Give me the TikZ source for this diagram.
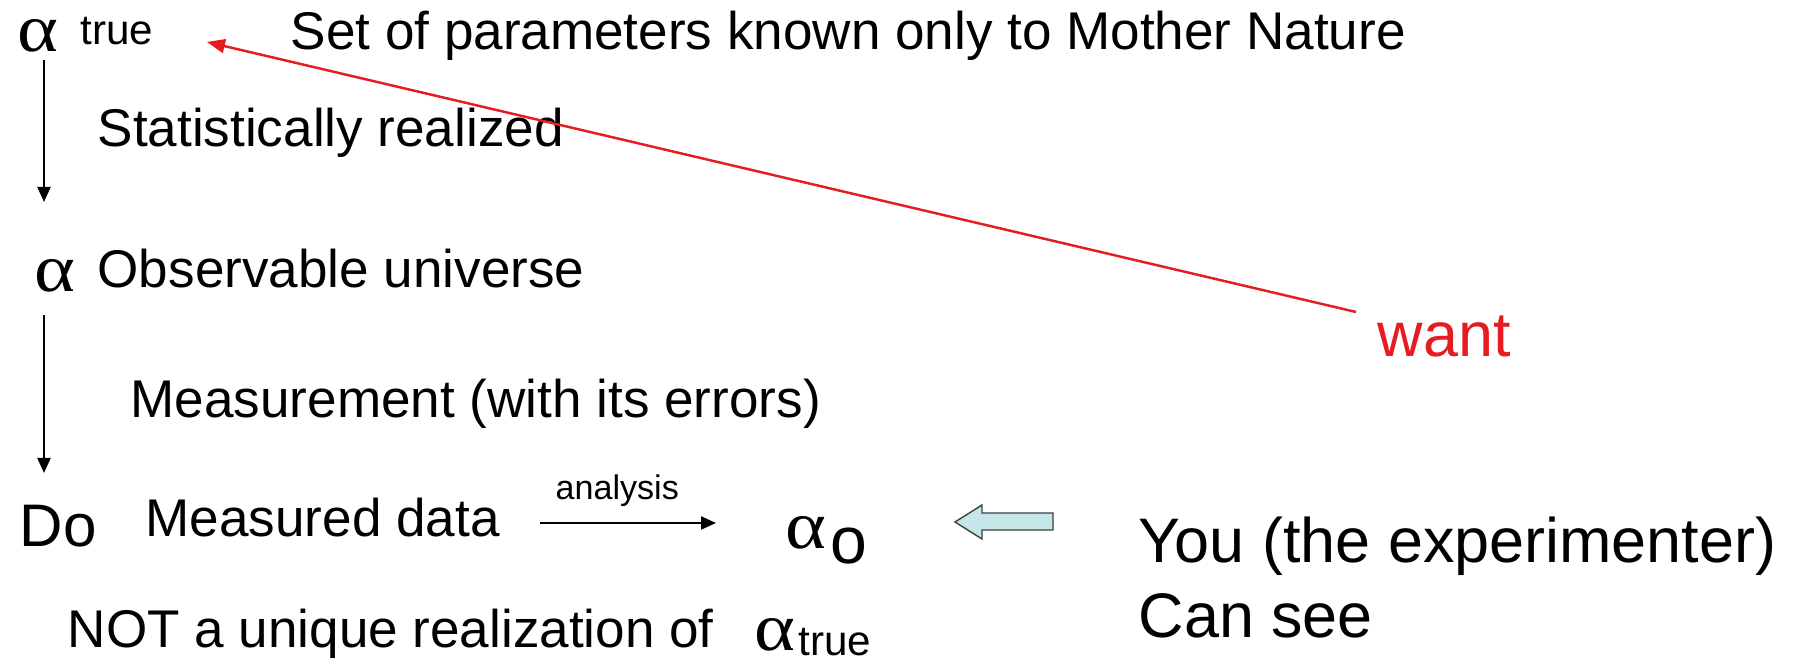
\documentclass[tikz,border=0pt]{standalone}
\usepackage{fontspec}
\setmainfont{Liberation Sans}
\newfontfamily\greekfont[FakeStretch=1.15]{Liberation Serif}
\usetikzlibrary{positioning,arrows.meta}
\definecolor{wantred}{RGB}{230,28,32}
\definecolor{seeblue}{RGB}{197,230,232}

\begin{document}
\begin{tikzpicture}[x=1cm,y=1cm,>={Triangle[length=1.5mm,width=1.3mm]},
  txt/.style={anchor=base west,inner sep=0pt,font=\fontsize{15.1}{18}\selectfont},
  big/.style={txt,font=\fontsize{17.9}{21}\selectfont},
  small/.style={txt,font=\fontsize{12}{14}\selectfont},
  alpha/.style={txt,font=\greekfont\fontsize{19.3}{22}\selectfont},
  flow/.style={->,line width=0.6pt}]
  % page of 18.04 x 6.62 cm, origin at the top left corner
  \useasboundingbox (0,0) rectangle (18.04,-6.62);
  \node[alpha] (atrue) at (0.17,-0.52) {α};
  \node[small] (true1) at (0.80,-0.45) {true};
  \node[txt] (nature) at (2.90,-0.50) {Set of parameters known only to Mother Nature};
  \node[txt] (stat) at (0.97,-1.47) {Statistically realized};
  \node[alpha] (aobs) at (0.34,-2.92) {α};
  \node[txt] (obs) at (0.97,-2.88) {Observable universe};
  \node[txt] (meas) at (1.30,-4.18) {Measurement (with its errors)};
  \node[txt,font=\fontsize{17.1}{20}\selectfont] (do) at (0.19,-5.47) {Do};
  \node[txt] (data) at (1.45,-5.37) {Measured data};
  \node[txt,font=\fontsize{9.7}{12}\selectfont] (ana) at (5.55,-5.00) {analysis};
  \node[alpha] (ao) at (7.85,-5.49) {α};
  \node[big,font=\fontsize{18.8}{22}\selectfont] (osub) at (8.30,-5.64) {o};
  \node[big] (you) at (11.38,-5.63) {You (the experimenter)};
  \node[big] (cansee) at (11.38,-6.38) {Can see};
  \node[big,text=wantred] (want) at (13.77,-3.57) {want};
  \node[txt] (notu) at (0.67,-6.48) {NOT a unique realization of};
  \node[alpha] (abot) at (7.54,-6.51) {α};
  \node[small] (true2) at (7.98,-6.56) {true};

  % connectors
  \coordinate (s1) at (0.44,-0.60);
  \coordinate (e1) at (0.44,-2.02);
  \coordinate (s2) at (0.44,-3.15);
  \coordinate (e2) at (0.44,-4.73);
  \coordinate (s3) at (5.40,-5.23);
  \coordinate (e3) at (7.16,-5.23);
  \coordinate (wantend) at (13.56,-3.12);
  \coordinate (wanttip) at (2.07,-0.42);
  \draw[flow] (s1) -- (e1);
  \draw[flow] (s2) -- (e2);
  \draw[flow] (s3) -- (e3);
  \draw[-{Triangle[length=1.8mm,width=1.4mm]},wantred,line width=0.7pt] (wantend) -- (wanttip);

  % hollow block arrow pointing at alpha_o
  \coordinate (bt) at (9.55,-5.22);
  \filldraw[fill=seeblue,draw=black!75,line width=0.4pt] (bt) -- ++(0.27,0.17) -- ++(0,-0.08)
    -- ++(0.71,0) -- ++(0,-0.17) -- ++(-0.71,0) -- ++(0,-0.09) -- cycle;
\end{tikzpicture}
\end{document}
